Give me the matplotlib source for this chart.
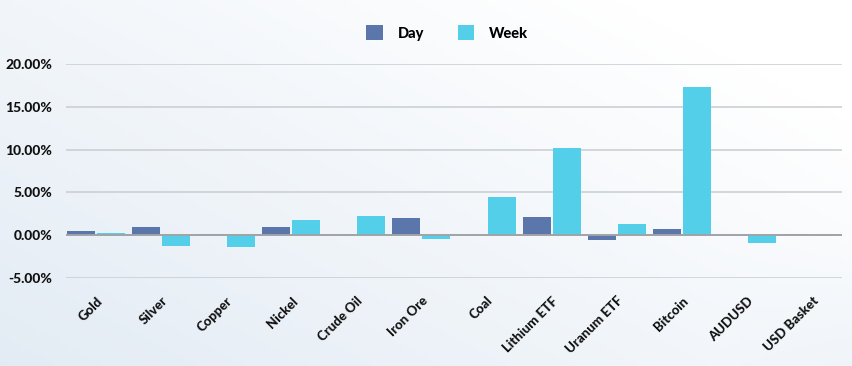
import numpy as np
import matplotlib
matplotlib.use("Agg")
import matplotlib.pyplot as plt
from matplotlib.patches import Patch
from matplotlib.ticker import FuncFormatter, MultipleLocator

categories = ["Gold", "Silver", "Copper", "Nickel", "Crude Oil", "Iron Ore", "Coal",
              "Lithium ETF", "Uranum ETF", "Bitcoin", "AUDUSD", "USD Basket"]
day = [0.45, 0.9, 0.15, 0.9, 0.0, 2.0, 0.0, 2.13, -0.54, 0.7, 0.02, 0.15]
week = [0.3, -1.3, -1.35, 1.8, 2.2, -0.4, 4.5, 10.2, 1.32, 17.37, -0.93, 0.1]
series_names = ["Day", "Week"]

DAY_C = "#5b76aa"
WEEK_C = "#53cfe9"
FONT = ["Lato", "DejaVu Sans"]
WT = 900

fig = plt.figure(figsize=(8.52, 3.66), dpi=100)

# background gradient
bg = fig.add_axes([0, 0, 1, 1], zorder=-10)
h, w = 100, 200
yy, xx = np.mgrid[0:1:h*1j, 0:1:w*1j]
t = np.clip(0.55 * (1 - xx) + 0.45 * yy - 0.15, 0, 1)
t = np.clip(t + 0.25 * np.clip(yy - 0.6, 0, 1) * 2 * np.clip(xx - 0.85, 0, 1) * 5, 0, 1)
c0 = np.array([1.0, 1.0, 1.0])
c1 = np.array([0.87, 0.91, 0.95])
img = c0[None, None, :] * (1 - t[..., None]) + c1[None, None, :] * t[..., None]
bg.imshow(img, aspect="auto", extent=[0, 1, 0, 1], origin="upper")
bg.axis("off")

ax = fig.add_axes([66/852, 88/366, 776/852, 214/366])
ax.set_facecolor("none")

x = np.arange(len(categories))
bw = 0.43
off = 0.23
ax.bar(x - off, day, width=bw, color=DAY_C, zorder=3)
ax.bar(x + off, week, width=bw, color=WEEK_C, zorder=3)

ax.set_xlim(-0.46, len(categories) - 1 + 0.46)
ax.set_ylim(-5, 20)
ax.yaxis.set_major_locator(MultipleLocator(5))
ax.yaxis.set_major_formatter(FuncFormatter(lambda v, p: f"{v:.2f}%"))
ax.grid(axis="y", color="#c9ccd0", linewidth=1.1, zorder=0)
ax.axhline(0, color="#a0a4a8", linewidth=1.4, zorder=4)
for s in ax.spines.values():
    s.set_visible(False)
ax.tick_params(axis="both", length=0)
ax.tick_params(axis="y", pad=10)
ax.set_xticks(x)
ax.set_xticklabels(categories, rotation=45, ha="right", va="top",
                   rotation_mode="anchor", fontsize=9.5, fontweight=WT,
                   family=FONT, color="#111111")
ax.tick_params(axis="x", pad=12)
for lab in ax.get_yticklabels():
    lab.set_fontsize(10)
    lab.set_fontweight(WT)
    lab.set_family(FONT)
    lab.set_color("#111111")

handles = [Patch(facecolor=DAY_C, label=series_names[0]),
           Patch(facecolor=WEEK_C, label=series_names[1])]
fig.legend(handles=handles, loc="center", bbox_to_anchor=(0.525, 0.91), ncol=2,
           frameon=False, handlelength=1.15, handleheight=1.15, handletextpad=1.0,
           columnspacing=2.3, prop={"family": FONT, "weight": WT, "size": 10.5})

fig.savefig("out.png", dpi=100)
